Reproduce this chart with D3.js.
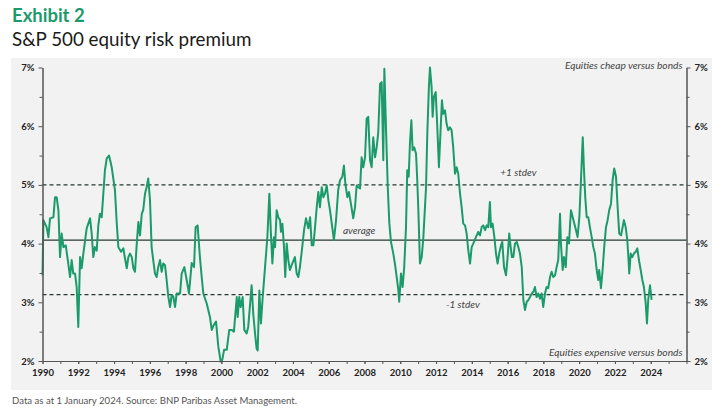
<!DOCTYPE html>
<html>
<head>
<meta charset="utf-8">
<script src="https://cdn.jsdelivr.net/npm/d3@7"></script>
<style>
  html, body { margin: 0; padding: 0; background: #fff; }
  svg { display: block; font-family: Lato, "Open Sans", sans-serif; }
</style>
</head>
<body>
<div id="chart"></div>
<script>
// dates as decimal years, values in percent
const DATES = [
  1990.0, 1990.05, 1990.23, 1990.33, 1990.42, 1990.61, 1990.7, 1990.79, 1990.89, 1990.98,
  1991.07, 1991.17, 1991.3, 1991.44, 1991.54, 1991.63, 1991.72, 1991.82, 1991.91, 1992.0,
  1992.1, 1992.19, 1992.28, 1992.47, 1992.66, 1992.75, 1992.84, 1992.93, 1993.03, 1993.12,
  1993.21, 1993.31, 1993.4, 1993.49, 1993.59, 1993.72, 1993.87, 1994.05, 1994.15, 1994.24,
  1994.39, 1994.52, 1994.61, 1994.71, 1994.8, 1994.89, 1994.99, 1995.08, 1995.17, 1995.27,
  1995.36, 1995.45, 1995.55, 1995.63, 1995.73, 1995.82, 1995.91, 1996.01, 1996.1, 1996.19,
  1996.29, 1996.38, 1996.47, 1996.57, 1996.66, 1996.75, 1996.85, 1996.94, 1997.03, 1997.13,
  1997.22, 1997.31, 1997.41, 1997.5, 1997.69, 1997.78, 1997.93, 1998.06, 1998.19, 1998.34,
  1998.47, 1998.56, 1998.67, 1998.8, 1998.9, 1998.99, 1999.18, 1999.36, 1999.46, 1999.55,
  1999.7, 1999.83, 1999.96, 2000.05, 2000.15, 2000.3, 2000.44, 2000.58, 2000.7, 2000.86,
  2000.91, 2001.0, 2001.08, 2001.19, 2001.28, 2001.41, 2001.5, 2001.69, 2001.78, 2001.88,
  2001.97, 2002.03, 2002.12, 2002.21, 2002.31, 2002.44, 2002.57, 2002.68, 2002.76, 2002.85,
  2002.94, 2003.0, 2003.09, 2003.18, 2003.28, 2003.33, 2003.41, 2003.5, 2003.57, 2003.65,
  2003.74, 2003.83, 2003.96, 2004.11, 2004.21, 2004.3, 2004.39, 2004.52, 2004.62, 2004.73,
  2004.86, 2004.96, 2005.05, 2005.14, 2005.23, 2005.33, 2005.42, 2005.51, 2005.61, 2005.7,
  2005.79, 2005.89, 2005.98, 2006.07, 2006.17, 2006.29, 2006.41, 2006.53, 2006.63, 2006.76,
  2006.85, 2006.93, 2007.04, 2007.13, 2007.24, 2007.37, 2007.47, 2007.56, 2007.65, 2007.75,
  2007.84, 2007.93, 2008.03, 2008.12, 2008.21, 2008.31, 2008.4, 2008.49, 2008.59, 2008.68,
  2008.77, 2008.87, 2008.96, 2009.05, 2009.11, 2009.2, 2009.3, 2009.39, 2009.48, 2009.61,
  2009.7, 2009.8, 2009.89, 2009.94, 2010.04, 2010.13, 2010.22, 2010.32, 2010.39, 2010.47,
  2010.54, 2010.62, 2010.69, 2010.78, 2010.88, 2010.95, 2011.01, 2011.1, 2011.2, 2011.29,
  2011.44, 2011.51, 2011.6, 2011.66, 2011.75, 2011.81, 2011.88, 2011.98, 2012.07, 2012.16,
  2012.26, 2012.33, 2012.4, 2012.5, 2012.59, 2012.68, 2012.78, 2012.87, 2012.96, 2013.06,
  2013.15, 2013.24, 2013.34, 2013.43, 2013.52, 2013.62, 2013.71, 2013.8, 2013.9, 2013.99,
  2014.08, 2014.23, 2014.36, 2014.46, 2014.55, 2014.64, 2014.74, 2014.83, 2014.92, 2015.01,
  2015.07, 2015.16, 2015.26, 2015.35, 2015.44, 2015.53, 2015.63, 2015.7, 2015.8, 2015.91,
  2016.0, 2016.09, 2016.17, 2016.24, 2016.32, 2016.41, 2016.51, 2016.6, 2016.69, 2016.79,
  2016.88, 2016.97, 2017.07, 2017.16, 2017.25, 2017.35, 2017.44, 2017.53, 2017.62, 2017.71,
  2017.81, 2017.9, 2017.99, 2018.09, 2018.18, 2018.27, 2018.37, 2018.46, 2018.55, 2018.65,
  2018.74, 2018.83, 2018.93, 2018.98, 2019.08, 2019.15, 2019.25, 2019.34, 2019.43, 2019.54,
  2019.64, 2019.73, 2019.82, 2019.91, 2020.01, 2020.1, 2020.2, 2020.27, 2020.34, 2020.42,
  2020.51, 2020.6, 2020.7, 2020.79, 2020.88, 2020.98, 2021.07, 2021.12, 2021.22, 2021.31,
  2021.4, 2021.5, 2021.59, 2021.68, 2021.78, 2021.87, 2021.96, 2022.06, 2022.15, 2022.24,
  2022.34, 2022.43, 2022.5, 2022.6, 2022.69, 2022.75, 2022.8, 2022.88, 2022.97, 2023.06,
  2023.16, 2023.25, 2023.34, 2023.44, 2023.53, 2023.62, 2023.72, 2023.79, 2023.86, 2023.96,
  2024.05,
];
const ERP = [
  3.46, 4.4, 4.28, 4.11, 4.43, 4.45, 4.79, 4.79, 4.57, 3.77,
  4.17, 3.94, 3.97, 3.66, 3.43, 3.72, 3.49, 3.49, 3.26, 2.58,
  3.77, 3.58, 3.82, 4.26, 4.43, 4.17, 3.77, 3.94, 3.88, 4.31,
  4.51, 4.45, 4.85, 5.25, 5.45, 5.5, 5.3, 4.91, 4.35, 3.94,
  3.86, 3.92, 3.75, 3.58, 3.77, 3.83, 3.77, 3.58, 3.52, 4.0,
  4.37, 4.14, 4.51, 4.57, 4.85, 4.96, 5.11, 4.74, 3.94, 3.72,
  3.49, 3.43, 3.6, 3.72, 3.52, 3.66, 3.63, 3.38, 3.1, 2.92,
  3.12, 3.1, 2.92, 3.15, 3.15, 3.49, 3.6, 3.38, 3.15, 3.67,
  3.6, 4.28, 4.31, 3.77, 3.43, 3.15, 2.98, 2.75, 2.53, 2.6,
  2.67, 2.24, 1.99, 2.02, 2.19, 2.19, 2.53, 2.53, 2.5, 3.09,
  2.75, 3.09, 2.92, 3.09, 2.53, 2.47, 2.58, 3.29, 2.81, 2.47,
  2.21, 2.18, 3.2, 2.64, 3.09, 3.6, 4.11, 4.85, 4.23, 3.66,
  4.11, 3.94, 4.57, 4.45, 4.4, 4.2, 4.34, 3.94, 3.43, 4.0,
  3.72, 3.55, 3.66, 3.77, 3.49, 3.43, 3.6, 3.94, 4.23, 4.43,
  4.26, 4.45, 3.97, 3.97, 4.26, 4.62, 4.88, 4.62, 4.96, 4.79,
  4.85, 4.99, 4.74, 4.57, 4.34, 4.06, 4.4, 4.91, 5.08, 5.14,
  5.33, 5.02, 4.79, 4.88, 4.68, 4.43, 4.62, 4.99, 4.96, 4.94,
  5.47, 5.3, 5.47, 6.13, 6.16, 5.42, 5.3, 5.81, 5.47, 5.64,
  5.9, 6.72, 6.75, 5.42, 6.98, 5.98, 4.96, 4.34, 4.03, 3.83,
  3.66, 3.43, 3.21, 3.01, 3.49, 3.26, 3.6, 4.28, 5.25, 5.14,
  5.7, 6.1, 5.59, 5.64, 5.53, 5.08, 4.57, 3.66, 3.77, 4.11,
  4.96, 5.87, 6.67, 7.0, 6.67, 6.16, 6.5, 6.58, 5.98, 5.3,
  5.98, 6.44, 6.21, 6.27, 6.04, 5.93, 5.98, 5.93, 5.64, 5.19,
  5.3, 5.19, 4.85, 4.62, 4.34, 4.31, 4.17, 3.89, 3.66, 3.94,
  4.0, 4.11, 4.2, 4.14, 4.28, 4.31, 4.23, 4.31, 4.28, 4.71,
  4.28, 4.34, 4.11, 3.83, 3.66, 3.83, 3.97, 4.03, 3.6, 3.46,
  3.77, 4.17, 3.94, 3.77, 3.77, 4.0, 4.03, 3.94, 3.83, 3.6,
  3.04, 2.87, 3.01, 3.04, 3.09, 3.15, 3.18, 3.26, 3.09, 3.15,
  3.06, 3.15, 2.92, 3.15, 3.26, 3.24, 3.43, 3.52, 3.43, 3.46,
  3.6, 3.72, 4.51, 4.0, 3.55, 3.77, 3.6, 4.11, 4.0, 4.57,
  4.45, 4.34, 4.23, 4.11, 4.45, 5.08, 5.81, 5.25, 4.79, 4.45,
  4.45, 4.28, 4.11, 3.94, 3.83, 3.55, 3.38, 3.55, 3.24, 3.55,
  3.94, 4.28, 4.4, 4.57, 4.68, 5.08, 5.28, 5.14, 4.62, 4.17,
  4.14, 4.28, 4.4, 4.28, 4.06, 3.77, 3.49, 3.83, 3.77, 3.83,
  3.86, 3.92, 3.72, 3.55, 3.38, 3.26, 2.98, 2.64, 3.04, 3.29,
  3.04,
];

const AVERAGE = 4.06;
const PLUS_1SD = 5.0;
const MINUS_1SD = 3.13;

const Y_TICKS = [2, 3, 4, 5, 6, 7];
const Y_MINOR = [2.5, 3.5, 4.5, 5.5, 6.5];
const X_LABELS = d3.range(1990, 2025, 2);
const X_TICKS = d3.range(1990, 2027, 1);

const REF_LINES = [
  { value: PLUS_1SD, dash: "4,3", label: "+1 stdev", at: 2016.6, dy: -9 },
  { value: AVERAGE, dash: null, label: "average", at: 2007.7, dy: -6 },
  { value: MINUS_1SD, dash: "4,3", label: "-1 stdev", at: 2013.5, dy: 13 },
];

const GREEN = "#1b9a6b";
const DARK = "#26382f";
const AXIS = "#555";

const W = 725;
const H = 419;

const svg = d3.select("#chart").append("svg").attr("width", W).attr("height", H);

// panel background
svg.append("rect").attr("x", 11).attr("y", 58).attr("width", 701).attr("height", 332).attr("fill", "#f2f2f2");

svg.append("text").attr("x", 12).attr("y", 22).attr("fill", GREEN)
  .attr("font-size", 18.5).attr("font-weight", 700).text("Exhibit 2");
svg.append("text").attr("x", 12).attr("y", 46).attr("fill", "#1a1a1a")
  .attr("font-size", 18.8).text("S&P 500 equity risk premium");
svg.append("text").attr("x", 12).attr("y", 404).attr("fill", "#555")
  .attr("font-size", 9.6).text("Data as at 1 January 2024.  Source: BNP Paribas Asset Management.");

const x = d3.scaleLinear().domain([1990, 2026]).range([42.5, 686.5]);
const y = d3.scaleLinear().domain([2, 7]).range([361, 67.5]);

// reference lines
const refG = svg.append("g");
refG.selectAll("line").data(REF_LINES).join("line")
  .attr("x1", x(1990)).attr("x2", x(2026))
  .attr("y1", (d) => y(d.value)).attr("y2", (d) => y(d.value))
  .attr("stroke", DARK).attr("stroke-width", 1.2)
  .attr("stroke-dasharray", (d) => d.dash);
refG.selectAll("text").data(REF_LINES).join("text")
  .attr("x", (d) => x(d.at)).attr("y", (d) => y(d.value) + d.dy)
  .attr("text-anchor", "middle").attr("font-style", "italic").attr("font-size", 10)
  .attr("fill", "#444").text((d) => d.label);

// series
const series = DATES.map((d, i) => [d, ERP[i]]);
svg.append("path").datum(series)
  .attr("fill", "none").attr("stroke", GREEN).attr("stroke-width", 2)
  .attr("stroke-linejoin", "round")
  .attr("d", d3.line().x((d) => x(d[0])).y((d) => y(d[1])));

// axes
function styleAxis(g) {
  g.select(".domain").attr("stroke", AXIS);
  g.selectAll(".tick line").attr("stroke", AXIS);
  g.selectAll(".tick text").attr("fill", "#222").attr("font-weight", 700)
    .attr("font-size", 9.5).attr("font-family", "Lato, sans-serif");
}

svg.append("g").attr("transform", `translate(${x(1990)},0)`)
  .call(d3.axisLeft(y).tickValues(Y_MINOR).tickSize(3).tickFormat("").tickSizeOuter(0))
  .call(styleAxis);
svg.append("g").attr("transform", `translate(${x(1990)},0)`)
  .call(d3.axisLeft(y).tickValues(Y_TICKS).tickSize(4).tickPadding(4).tickFormat((d) => d + "%").tickSizeOuter(0))
  .call(styleAxis);

svg.append("g").attr("transform", `translate(${x(2026)},0)`)
  .call(d3.axisRight(y).tickValues(Y_MINOR).tickSize(3).tickFormat("").tickSizeOuter(0))
  .call(styleAxis);
svg.append("g").attr("transform", `translate(${x(2026)},0)`)
  .call(d3.axisRight(y).tickValues(Y_TICKS).tickSize(4).tickPadding(4).tickFormat((d) => d + "%").tickSizeOuter(0))
  .call(styleAxis);

svg.append("g").attr("transform", `translate(0,${y(2)})`)
  .call(d3.axisBottom(x).tickValues(X_TICKS).tickSize(3).tickFormat("").tickSizeOuter(0))
  .call(styleAxis);
svg.append("g").attr("transform", `translate(0,${y(2)})`)
  .call(d3.axisBottom(x).tickValues(X_LABELS).tickSize(3).tickPadding(5).tickFormat(d3.format("d")).tickSizeOuter(0))
  .call(styleAxis);

// corner notes
svg.append("text").attr("x", x(2026) - 4).attr("y", y(7) + 1)
  .attr("text-anchor", "end").attr("font-style", "italic").attr("font-size", 10.2)
  .attr("fill", "#444").text("Equities cheap versus bonds");
svg.append("text").attr("x", x(2026) - 4).attr("y", y(2) - 5)
  .attr("text-anchor", "end").attr("font-style", "italic").attr("font-size", 10.2)
  .attr("fill", "#444").text("Equities expensive versus bonds");
</script>
</body>
</html>
